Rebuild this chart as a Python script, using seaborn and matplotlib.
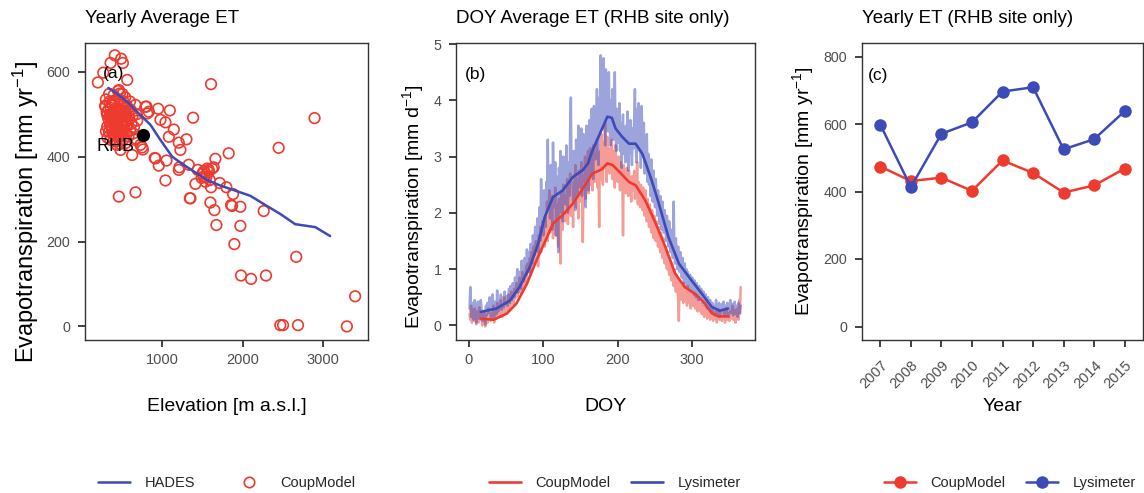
import numpy as np
import pandas as pd
import matplotlib
matplotlib.use("Agg")
import matplotlib.pyplot as plt
import seaborn as sns
from matplotlib.lines import Line2D

# ---------------- Panel (a): yearly average ET vs elevation ----------------
hades_elev = [330, 420, 495, 585, 730, 855, 980, 1125, 1250, 1395, 1560, 1725,
              1910, 2095, 2285, 2470, 2655, 2905, 3090]
hades_et = [562, 551, 540, 526, 498, 475, 439, 400, 383, 365, 345, 332,
            320, 308, 286, 265, 241, 234, 213]

coup_elev = [411, 490, 358, 511, 267, 200, 565, 1608, 461, 474, 2896, 1385,
             805, 950, 1095, 834, 979, 1041, 1145, 1083, 1207, 1302, 1227, 751,
             760, 627, 482, 908, 958, 1054, 1041, 1207, 1215, 1331, 1443, 1414,
             1344, 1517, 1580, 1621, 1662, 1592, 1538, 1608, 1716, 1828, 1799, 1882,
             1600, 1650, 1675, 1857, 1973, 1973, 1898, 2263, 2449, 2668, 1981, 2106,
             2292, 2470, 2504, 2690, 3298, 3401, 461, 668, 1641, 1579, 1500, 1550,
             1520, 1560, 1490, 1352, 1870, 730, 668, 296, 317, 317, 337, 668, 793,
             814, 917,
             290, 310, 330, 350, 300, 320, 345, 360, 375, 390, 365, 380, 400, 410,
             425, 440, 415, 430, 450, 420, 465, 480, 495, 470, 485, 500, 460, 520,
             535, 510, 545, 525, 550, 515, 560, 575, 590, 570, 600, 580, 610, 630,
             620, 650, 640, 660, 680, 690, 300, 340, 395, 450, 505, 540, 600, 355,
             435, 480, 545, 390, 445, 505, 470, 530, 410, 370,
             335, 355, 385, 405, 430, 455, 475, 500, 525, 545, 360, 380, 410, 440,
             460, 490, 515, 540, 565, 345, 370, 400, 425, 450, 480, 510, 535, 555,
             395, 420, 445, 470, 495, 520]
coup_et = [639, 631, 621, 621, 598, 575, 581, 571, 557, 549, 491, 492,
           518, 513, 509, 506, 487, 481, 464, 447, 433, 441, 416, 422,
           417, 404, 416, 397, 379, 391, 344, 369, 375, 381, 369, 336,
           302, 353, 364, 372, 395, 345, 341, 328, 338, 408, 328, 312,
           292, 274, 239, 286, 282, 237, 194, 272, 421, 164, 120, 112,
           120, 3, 3, 3, 0, 71, 306, 316, 375, 369, 360, 352,
           366, 372, 350, 302, 284, 428, 443, 518, 498, 471, 459, 522, 518,
           502, 396,
           520, 505, 490, 475, 460, 445, 530, 515, 500, 485, 470, 455, 440, 525,
           510, 495, 478, 462, 448, 436, 535, 520, 505, 490, 475, 460, 445, 530,
           515, 498, 485, 470, 455, 440, 520, 505, 490, 475, 462, 448, 510, 495,
           478, 470, 455, 440, 500, 485, 535, 548, 545, 555, 548, 540, 530, 440,
           428, 430, 432, 505, 515, 485, 510, 495, 460, 490,
           512, 498, 522, 508, 495, 482, 468, 476, 488, 500, 482, 466, 452, 478,
           462, 450, 470, 462, 485, 496, 525, 532, 488, 470, 512, 522, 505, 472,
           458, 492, 466, 502, 458, 486]
rhb_elev = [759]
rhb_et = [451]

# ---------------- Panel (b): DOY average ET at RHB ----------------
lysi_daily = [
    0.30, 0.68, 0.15, 0.40, 0.22, 0.10, 0.35, 0.45, 0.18, 0.05,
    0.28, 0.42, 0.38, 0.12, 0.20, 0.45, 0.30, 0.08, 0.15, 0.25,
    0.10, 0.02, 0.35, 0.18, 0.40, 0.22, 0.28, 0.50, 0.20, 0.12,
    0.30, 0.55, 0.25, 0.15, 0.42, 0.38, 0.20, 0.62, 0.30, 0.25,
    0.45, 0.35, 0.55, 0.28, 0.40, 0.50, 0.32, 0.60, 0.38, 0.45,
    0.52, 0.35, 0.48, 0.65, 0.40, 0.70, 0.55, 0.45, 0.75, 0.60,
    0.50, 0.85, 0.62, 0.70, 1.00, 0.58, 0.80, 0.95, 0.72, 0.65,
    1.15, 0.85, 0.95, 0.78, 1.20, 1.05, 0.90, 1.35, 0.95, 1.10,
    1.30, 0.95, 1.45, 1.20, 1.10, 1.60, 1.35, 1.25, 1.75, 1.40,
    1.55, 1.90, 1.30, 1.70, 2.10, 1.50, 2.60, 1.85, 2.30, 1.60,
    2.40, 2.00, 1.75, 2.55, 2.20, 3.30, 2.10, 2.70, 1.90, 2.85,
    2.25, 1.70, 3.25, 2.50, 2.10, 2.90, 1.60, 2.65, 2.35, 1.30,
    2.80, 2.45, 3.10, 2.00, 2.60, 1.85, 3.00, 2.40, 2.70, 2.15,
    3.20, 2.55, 2.00, 2.90, 2.30, 3.45, 4.05, 2.50, 2.75, 2.20,
    3.10, 2.60, 2.05, 3.30, 2.80, 2.35, 3.55, 2.65, 3.05, 2.45,
    3.50, 2.30, 2.90, 3.40, 2.55, 3.20, 2.10, 3.55, 2.85, 3.00,
    2.40, 3.65, 3.20, 2.70, 3.85, 3.10, 2.60, 3.90, 3.30, 2.95,
    3.60, 4.20, 3.15, 2.85, 4.05, 3.40, 4.80, 3.70, 4.35, 3.50,
    4.75, 3.90, 3.20, 4.55, 3.85, 4.10, 3.45, 4.50, 3.75, 3.20,
    4.00, 3.55, 4.20, 3.30, 3.70, 4.50, 3.40, 3.10, 3.85, 3.55,
    3.25, 3.95, 3.10, 3.60, 2.80, 3.40, 3.75, 3.05, 3.45, 2.90,
    3.55, 3.20, 3.80, 2.75, 3.40, 3.05, 3.65, 3.30, 2.85, 3.50,
    3.15, 3.70, 4.20, 3.25, 2.90, 3.85, 3.40, 3.95, 3.10, 3.55,
    2.80, 3.90, 3.30, 3.00, 3.60, 2.70, 3.20, 2.85, 3.40, 2.55,
    3.05, 2.50, 2.80, 2.30, 2.95, 2.60, 2.20, 2.75, 2.45, 2.10,
    2.60, 2.25, 1.95, 2.40, 2.15, 1.80, 2.30, 2.05, 1.70, 2.20,
    1.90, 1.65, 2.05, 1.75, 1.50, 1.95, 1.60, 1.40, 1.85, 1.55,
    1.30, 1.70, 1.45, 1.20, 2.20, 1.35, 1.10, 1.55, 1.25, 1.00,
    1.40, 1.15, 0.95, 1.30, 1.05, 0.85, 1.20, 0.90, 0.75, 1.10,
    0.85, 1.00, 0.70, 0.95, 0.80, 0.65, 0.90, 0.75, 0.60, 0.85,
    0.70, 0.55, 0.80, 0.65, 0.50, 0.75, 0.60, 0.45, 0.70, 0.55,
    0.45, 0.65, 0.50, 0.40, 0.60, 0.45, 0.35, 0.55, 0.40, 0.30,
    0.50, 0.35, 0.28, 0.45, 0.30, 0.22, 0.40, 0.25, 0.35, 0.18,
    0.30, 0.45, 0.20, 0.35, 0.25, 0.40, 0.15, 0.30, 0.22, 0.38,
    0.25, 0.42, 0.18, 0.30, 0.35, 0.20, 0.40, 0.28, 0.15, 0.32,
    0.45, 0.22, 0.30, 0.38, 0.18, 0.28, 0.42, 0.20, 0.35, 0.25,
    0.15, 0.40, 0.30, 0.22, 0.35]
coup_daily = [
    0.20, 0.10, 0.35, 0.05, 0.15, 0.28, 0.08, 0.30, 0.12, 0.02,
    0.18, 0.25, 0.05, 0.32, 0.10, 0.15, 0.22, 0.00, 0.12, 0.08,
    0.25, -0.02, 0.10, 0.18, 0.05, 0.30, 0.12, 0.20, 0.08, 0.15,
    0.22, 0.10, 0.35, 0.05, 0.18, 0.28, 0.12, 0.40, 0.15, 0.20,
    0.30, 0.18, 0.45, 0.22, 0.15, 0.35, 0.28, 0.50, 0.20, 0.32,
    0.40, 0.25, 0.55, 0.30, 0.45, 0.35, 0.60, 0.42, 0.50, 0.38,
    0.65, 0.48, 0.55, 0.75, 0.52, 0.70, 0.60, 0.85, 0.58, 0.80,
    0.70, 0.95, 0.65, 0.85, 0.90, 0.75, 1.05, 0.80, 1.10, 0.95,
    1.00, 1.20, 0.90, 1.30, 1.05, 1.15, 1.40, 1.10, 1.25, 1.50,
    1.20, 1.45, 1.05, 1.60, 1.35, 1.75, 1.30, 1.55, 1.85, 1.45,
    1.70, 1.40, 1.95, 1.60, 2.20, 1.50, 1.85, 2.40, 1.65, 2.00,
    1.75, 2.30, 1.55, 2.05, 1.80, 2.45, 1.60, 2.15, 1.90, 1.40,
    2.25, 1.95, 1.10, 2.35, 2.00, 1.70, 2.50, 2.10, 1.85, 2.30,
    2.05, 2.60, 1.80, 2.40, 2.15, 2.70, 1.95, 2.45, 2.20, 1.75,
    2.55, 2.30, 2.85, 2.10, 2.60, 2.35, 1.90, 2.75, 2.45, 2.20,
    2.90, 2.50, 1.48, 2.65, 2.40, 3.00, 2.25, 2.70, 2.55, 3.10,
    2.35, 2.80, 3.15, 2.50, 2.95, 2.40, 3.20, 2.75, 2.55, 3.05,
    2.65, 3.30, 2.45, 2.85, 1.75, 3.10, 2.60, 3.40, 2.90, 2.50,
    3.25, 2.80, 3.60, 3.00, 2.55, 3.35, 2.95, 3.15, 2.70, 3.05,
    2.85, 3.30, 2.60, 3.10, 2.90, 2.45, 3.20, 2.75, 2.95, 2.55,
    3.00, 2.65, 2.40, 2.90, 2.55, 2.75, 1.60, 2.85, 2.50, 2.70,
    2.35, 2.80, 2.55, 2.30, 2.75, 2.45, 2.60, 2.20, 2.65, 2.50,
    2.40, 2.75, 2.25, 2.60, 2.35, 2.90, 2.15, 2.55, 2.40, 2.10,
    2.50, 2.30, 2.05, 2.45, 2.20, 1.95, 2.40, 2.10, 1.85, 2.25,
    2.00, 1.75, 2.15, 1.90, 1.65, 2.05, 1.80, 1.55, 1.95, 1.70,
    1.50, 1.85, 1.60, 1.40, 1.75, 1.45, 1.30, 1.65, 1.35, 1.20,
    1.55, 1.25, 1.10, 1.40, 1.15, 1.00, 1.30, 1.05, 0.90, 1.20,
    0.95, 0.80, 1.10, 0.85, 0.70, 1.00, 0.75, 0.60, 0.90, 0.65,
    0.50, 0.08, 0.80, 0.55, 0.70, 0.45, 0.65, 0.40, 0.75, 0.50,
    0.60, 0.45, 0.35, 0.70, 0.50, 0.40, 0.60, 0.30, 0.55, 0.45,
    0.35, 0.55, 0.40, 0.30, 0.50, 0.35, 0.25, 0.45, 0.30, 0.40,
    0.25, 0.38, 0.20, 0.35, 0.28, 0.15, 0.32, 0.22, 0.30, 0.12,
    0.25, 0.18, 0.30, 0.10, 0.22, 0.15, 0.28, 0.08, 0.20, 0.12,
    0.18, 0.25, 0.05, 0.20, 0.12, 0.28, 0.10, 0.22, 0.15, 0.08,
    0.20, 0.12, 0.25, 0.05, 0.18, 0.30, 0.10, 0.22, 0.15, 0.08,
    0.25, 0.12, 0.20, 0.35, 0.10, 0.18, 0.28, 0.05, 0.22, 0.15,
    0.30, 0.10, 0.45, 0.20, 0.68]

lysi_smooth_doy = [16, 37, 55, 68, 82, 93, 102, 113, 126, 140, 153, 160, 166, 178,
                   186, 192, 197, 206, 215, 224, 233, 244, 255, 268, 282, 299, 313,
                   326, 337, 348]
lysi_smooth = [0.24, 0.30, 0.44, 0.68, 1.04, 1.45, 1.93, 2.28, 2.40, 2.64, 2.76, 2.88,
               3.11, 3.47, 3.71, 3.69, 3.50, 3.35, 3.23, 3.23, 3.05, 2.64, 2.17, 1.57,
               1.10, 0.80, 0.56, 0.33, 0.26, 0.30]
coup_smooth_doy = [16, 33, 51, 64, 78, 91, 105, 113, 126, 140, 153, 166, 178, 186,
                   193, 202, 215, 224, 237, 251, 264, 277, 290, 304, 317, 326, 335, 348]
coup_smooth = [0.12, 0.10, 0.21, 0.39, 0.74, 1.16, 1.57, 1.81, 1.96, 2.17, 2.43, 2.70,
               2.77, 2.88, 2.85, 2.73, 2.55, 2.49, 2.22, 1.81, 1.39, 0.92, 0.68, 0.56,
               0.39, 0.22, 0.16, 0.16]

# ---------------- Panel (c): yearly ET at RHB ----------------
years = [2007, 2008, 2009, 2010, 2011, 2012, 2013, 2014, 2015]
coup_year = [474, 431, 441, 402, 492, 455, 397, 418, 468]
lysi_year = [598, 413, 571, 605, 696, 709, 525, 555, 638]

# ---------------- Styling ----------------
sns.set_theme(style="ticks")
plt.rcParams["font.family"] = ["Liberation Sans", "DejaVu Sans"]
plt.rcParams["mathtext.default"] = "regular"

RED = "#EE3B30"
BLUE = "#3C4BB8"
GRAY = "#4D4D4D"
FRAME = "#333333"

W, H = 1144, 493
fig = plt.figure(figsize=(W / 100, H / 100), dpi=100)
fig.patch.set_facecolor("white")


def add_ax(l, r, t, b):
    return fig.add_axes([l / W, 1 - b / H, (r - l) / W, (b - t) / H])


axa = add_ax(85, 368, 43, 340)
axb = add_ax(456, 755, 43, 340)
axc = add_ax(862, 1143, 43, 340)

# Panel (a)
sns.scatterplot(x=coup_elev, y=coup_et, ax=axa, marker="o", s=58,
                facecolors="none", edgecolor=RED, linewidth=1.2, zorder=2)
sns.lineplot(x=hades_elev, y=hades_et, ax=axa, color=BLUE, linewidth=1.8,
             sort=False, estimator=None, zorder=3)
sns.scatterplot(x=rhb_elev, y=rhb_et, ax=axa, color="black", s=90,
                linewidth=0, zorder=4)
axa.text(650, 424, "RHB", ha="right", va="center", fontsize=13, color="black")
axa.set_xlim(40, 3561)
axa.set_ylim(-32, 668)
axa.set_xticks([1000, 2000, 3000])
axa.set_yticks([0, 200, 400, 600])

# Panel (b)
doy = np.arange(1, len(lysi_daily) + 1)
sns.lineplot(x=doy, y=coup_daily, ax=axb, color=RED, alpha=0.5, linewidth=1.8,
             estimator=None)
sns.lineplot(x=doy, y=lysi_daily, ax=axb, color=BLUE, alpha=0.5, linewidth=1.8,
             estimator=None)
sns.lineplot(x=coup_smooth_doy, y=coup_smooth, ax=axb, color=RED, linewidth=1.9,
             estimator=None)
sns.lineplot(x=lysi_smooth_doy, y=lysi_smooth, ax=axb, color=BLUE, linewidth=1.9,
             estimator=None)
axb.set_xlim(-17.25, 384.25)
axb.set_ylim(-0.26, 5.02)
axb.set_xticks([0, 100, 200, 300])
axb.set_yticks([0, 1, 2, 3, 4, 5])

# Panel (c)
sns.lineplot(x=years, y=coup_year, ax=axc, color=RED, linewidth=1.8, marker="o",
             markersize=9, markeredgewidth=0, estimator=None)
sns.lineplot(x=years, y=lysi_year, ax=axc, color=BLUE, linewidth=1.8, marker="o",
             markersize=9, markeredgewidth=0, estimator=None)
axc.set_xlim(2006.4, 2015.6)
axc.set_ylim(-40, 840)
axc.set_xticks(years)
axc.set_xticklabels([str(y) for y in years], rotation=45, ha="right",
                    rotation_mode="anchor")
axc.set_yticks([0, 200, 400, 600, 800])

titles = ["Yearly Average ET", "DOY Average ET (RHB site only)", "Yearly ET (RHB site only)"]
xlabels = ["Elevation [m a.s.l.]", "DOY", "Year"]
ylabels = [r"Evapotranspiration [mm yr$^{-1}$]", r"Evapotranspiration [mm d$^{-1}$]",
           r"Evapotranspiration [mm yr$^{-1}$]"]
ylab_x = [-0.208, -0.144, -0.211]
ylab_y = [0.431, 0.45, 0.5]
ylab_fs = [17, 14, 14]
tags = ["(a)", "(b)", "(c)"]
tag_pos = [(0.062, 0.896), (0.030, 0.895), (0.022, 0.892)]

for ax, t, xl, yl, yx, yy, yfs, tag, tp in zip([axa, axb, axc], titles, xlabels,
                                               ylabels, ylab_x, ylab_y, ylab_fs,
                                               tags, tag_pos):
    for s in ax.spines.values():
        s.set_visible(True)
        s.set_color(FRAME)
        s.set_linewidth(1.0)
    ax.tick_params(direction="out", length=5, width=1.3, color=FRAME,
                   labelcolor=GRAY)
    ax.tick_params(axis="y", pad=5.5, labelsize=10.3)
    ax.tick_params(axis="x", pad=4, labelsize=10.5)
    ax.set_title(t, loc="left", fontsize=13.5, color="black", pad=14.5)
    ax.set_xlabel(xl, fontsize=14, color="black")
    ax.set_ylabel(yl, fontsize=yfs, color="black")
    ax.xaxis.set_label_coords(0.5, -0.238)
    ax.xaxis.label.set_va("baseline")
    ax.yaxis.set_label_coords(yx, yy)
    ax.yaxis.label.set_va("center")
    ax.text(tp[0], tp[1], tag, transform=ax.transAxes, ha="left", va="center",
            fontsize=12.5, color="black")
    ax.grid(False)

axc.tick_params(axis="x", pad=8, labelsize=10.5)

leg_kw = dict(loc="center", ncol=2, frameon=False, fontsize=10.5, handlelength=2.2,
              handletextpad=1.0)
h_a = [Line2D([], [], color=BLUE, lw=1.8),
       Line2D([], [], color=RED, lw=0, marker="o", markersize=7.5,
              markerfacecolor="none", markeredgewidth=1.2)]
axa.legend(h_a, ["HADES", "CoupModel"], bbox_to_anchor=(0.5, -0.481),
           columnspacing=2.6, **leg_kw)
h_b = [Line2D([], [], color=RED, lw=1.9), Line2D([], [], color=BLUE, lw=1.9)]
axb.legend(h_b, ["CoupModel", "Lysimeter"], bbox_to_anchor=(0.532, -0.481),
           columnspacing=1.4, **leg_kw)
h_c = [Line2D([], [], color=RED, lw=1.8, marker="o", markersize=9, markeredgewidth=0),
       Line2D([], [], color=BLUE, lw=1.8, marker="o", markersize=9, markeredgewidth=0)]
axc.legend(h_c, ["CoupModel", "Lysimeter"], bbox_to_anchor=(0.527, -0.481),
           columnspacing=1.4, **leg_kw)

fig.savefig("out.png", dpi=100, facecolor="white")
